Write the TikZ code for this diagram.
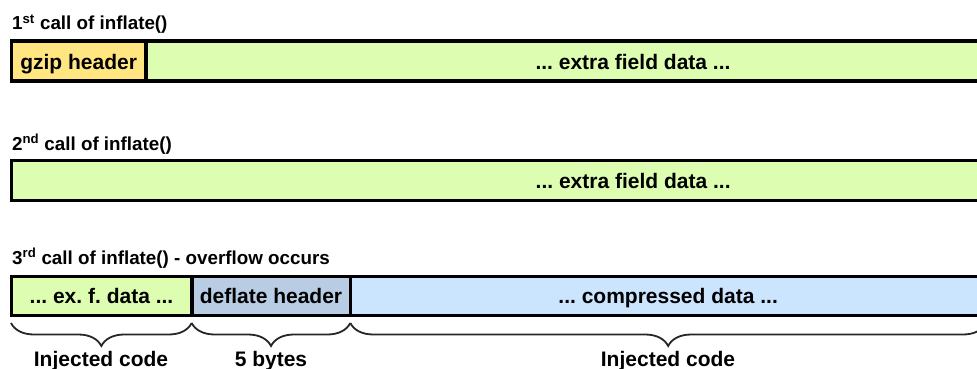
\documentclass[tikz,border=0pt]{standalone}
\usepackage{fontspec}
\setmainfont{Liberation Sans}
\usetikzlibrary{decorations.pathreplacing}
\frenchspacing

\definecolor{hdryellow}{HTML}{FFE680}
\definecolor{xgreen}{HTML}{DDFDB1}
\definecolor{deflblue}{HTML}{B8CCE4}
\definecolor{compblue}{HTML}{CCE5FF}

\tikzset{
  field/.style={draw=black, line width=3.6pt, rectangle, inner sep=0pt, outer sep=0pt,
    font=\fontsize{21}{21}\selectfont\bfseries, text height=16pt, text depth=0pt},
  caption/.style={anchor=base west, inner sep=0pt, font=\fontsize{18.8}{18.8}\selectfont\bfseries},
  bracelabel/.style={anchor=base, inner sep=0pt, font=\fontsize{21}{21}\selectfont\bfseries},
  bytebrace/.style={decorate, decoration={brace, amplitude=23pt, mirror}, line width=1.8pt, draw=black!85}
}

\begin{document}
\begin{tikzpicture}[x=1pt, y=-1pt]
  \useasboundingbox (0,0) rectangle (977,369);
  \clip (0,0) rectangle (977,369);

  % first call
  \node[caption] (t1) at (12,30) {1\textsuperscript{st} call of inflate()};
  \node[field, fill=hdryellow, minimum width=134.7pt, minimum height=40.3pt] (gzip) at (78.65,61.15) {gzip header};
  \node[field, fill=xgreen, minimum width=974pt, minimum height=40.3pt] (extra1) at (633,61.15) {... extra field data ...};

  % second call
  \node[caption] (t2) at (12,150) {2\textsuperscript{nd} call of inflate()};
  \node[field, fill=xgreen, minimum width=1243.7pt, minimum height=40pt] (extra2) at (633.15,180.3) {... extra field data ...};

  % third call
  \node[caption] (t3) at (12,264) {3\textsuperscript{rd} call of inflate() - overflow occurs};
  \node[field, fill=xgreen, minimum width=180.4pt, minimum height=39pt] (exf) at (101.5,295.8) {... ex. f. data ...};
  \node[field, fill=deflblue, minimum width=158.6pt, minimum height=39pt] (defl) at (271,295.8) {deflate header};
  \node[field, fill=compblue, minimum width=635.7pt, minimum height=39pt] (comp) at (668.15,295.8) {... compressed data ...};

  % braces under the third row
  \coordinate (b0) at (11,323);
  \coordinate (b1) at (191.7,323);
  \coordinate (b2) at (350.3,323);
  \coordinate (b3) at (986,323);
  \draw[bytebrace] (b0) -- (b1);
  \draw[bytebrace] (b1) -- (b2);
  \draw[bytebrace] (b2) -- (b3);

  \node[bracelabel] (l1) at (101,366) {Injected code};
  \node[bracelabel] (l2) at (271,366) {5 bytes};
  \node[bracelabel] (l3) at (668,366) {Injected code};
\end{tikzpicture}
\end{document}
